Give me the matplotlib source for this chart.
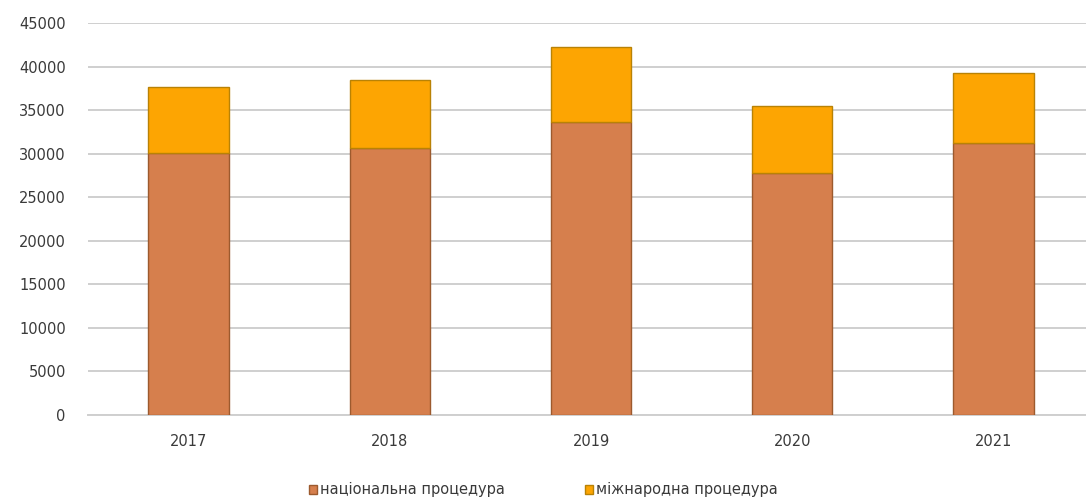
import matplotlib
matplotlib.use("Agg")
import matplotlib.pyplot as plt
import numpy as np

# values
years = ["2017", "2018", "2019", "2020", "2021"]
national = [30100, 30700, 33600, 27800, 31200]
international_total = [37700, 38500, 42200, 35500, 39300]
international = [t - n for t, n in zip(international_total, national)]
y_ticks = [0, 5000, 10000, 15000, 20000, 25000, 30000, 35000, 40000, 45000]

plt.rcParams['font.family'] = ['DejaVu Sans']

fig = plt.figure(figsize=(10.86, 5.01), dpi=100)
ax = fig.add_axes([0.081, 0.172, 0.919, 0.782])

x = np.arange(len(years))
w = 0.4
ax.bar(x, national, width=w, color="#D67F4D", edgecolor="#9C5A2E", linewidth=1.0,
       label="національна процедура", zorder=3)
ax.bar(x, international, width=w, bottom=national, color="#FDA502", edgecolor="#B98205",
       linewidth=1.0, label="міжнародна процедура", zorder=3)

ax.set_ylim(0, 45000)
ax.set_xlim(-0.5, 4.46)
ax.set_yticks(y_ticks)
ax.set_xticks(x)
ax.set_xticklabels(years)
ax.yaxis.grid(True, color="#CFCFCF", linewidth=1.4, zorder=0)
ax.set_axisbelow(True)
for s in ["top", "right", "left"]:
    ax.spines[s].set_visible(False)
ax.spines["bottom"].set_color("#CFCFCF")
ax.spines["bottom"].set_linewidth(1.4)
ax.tick_params(axis="both", length=0, labelsize=10.5, colors="#3A3A3A")
ax.tick_params(axis="y", pad=16)
ax.tick_params(axis="x", pad=14)

fig.legend(loc="center", bbox_to_anchor=(0.5, 0.022), ncol=2, frameon=False,
           fontsize=10.5, handlelength=0.55, handleheight=0.55, handletextpad=0.2,
           columnspacing=5.5, labelcolor="#3A3A3A")

fig.savefig("out.png", dpi=100)
